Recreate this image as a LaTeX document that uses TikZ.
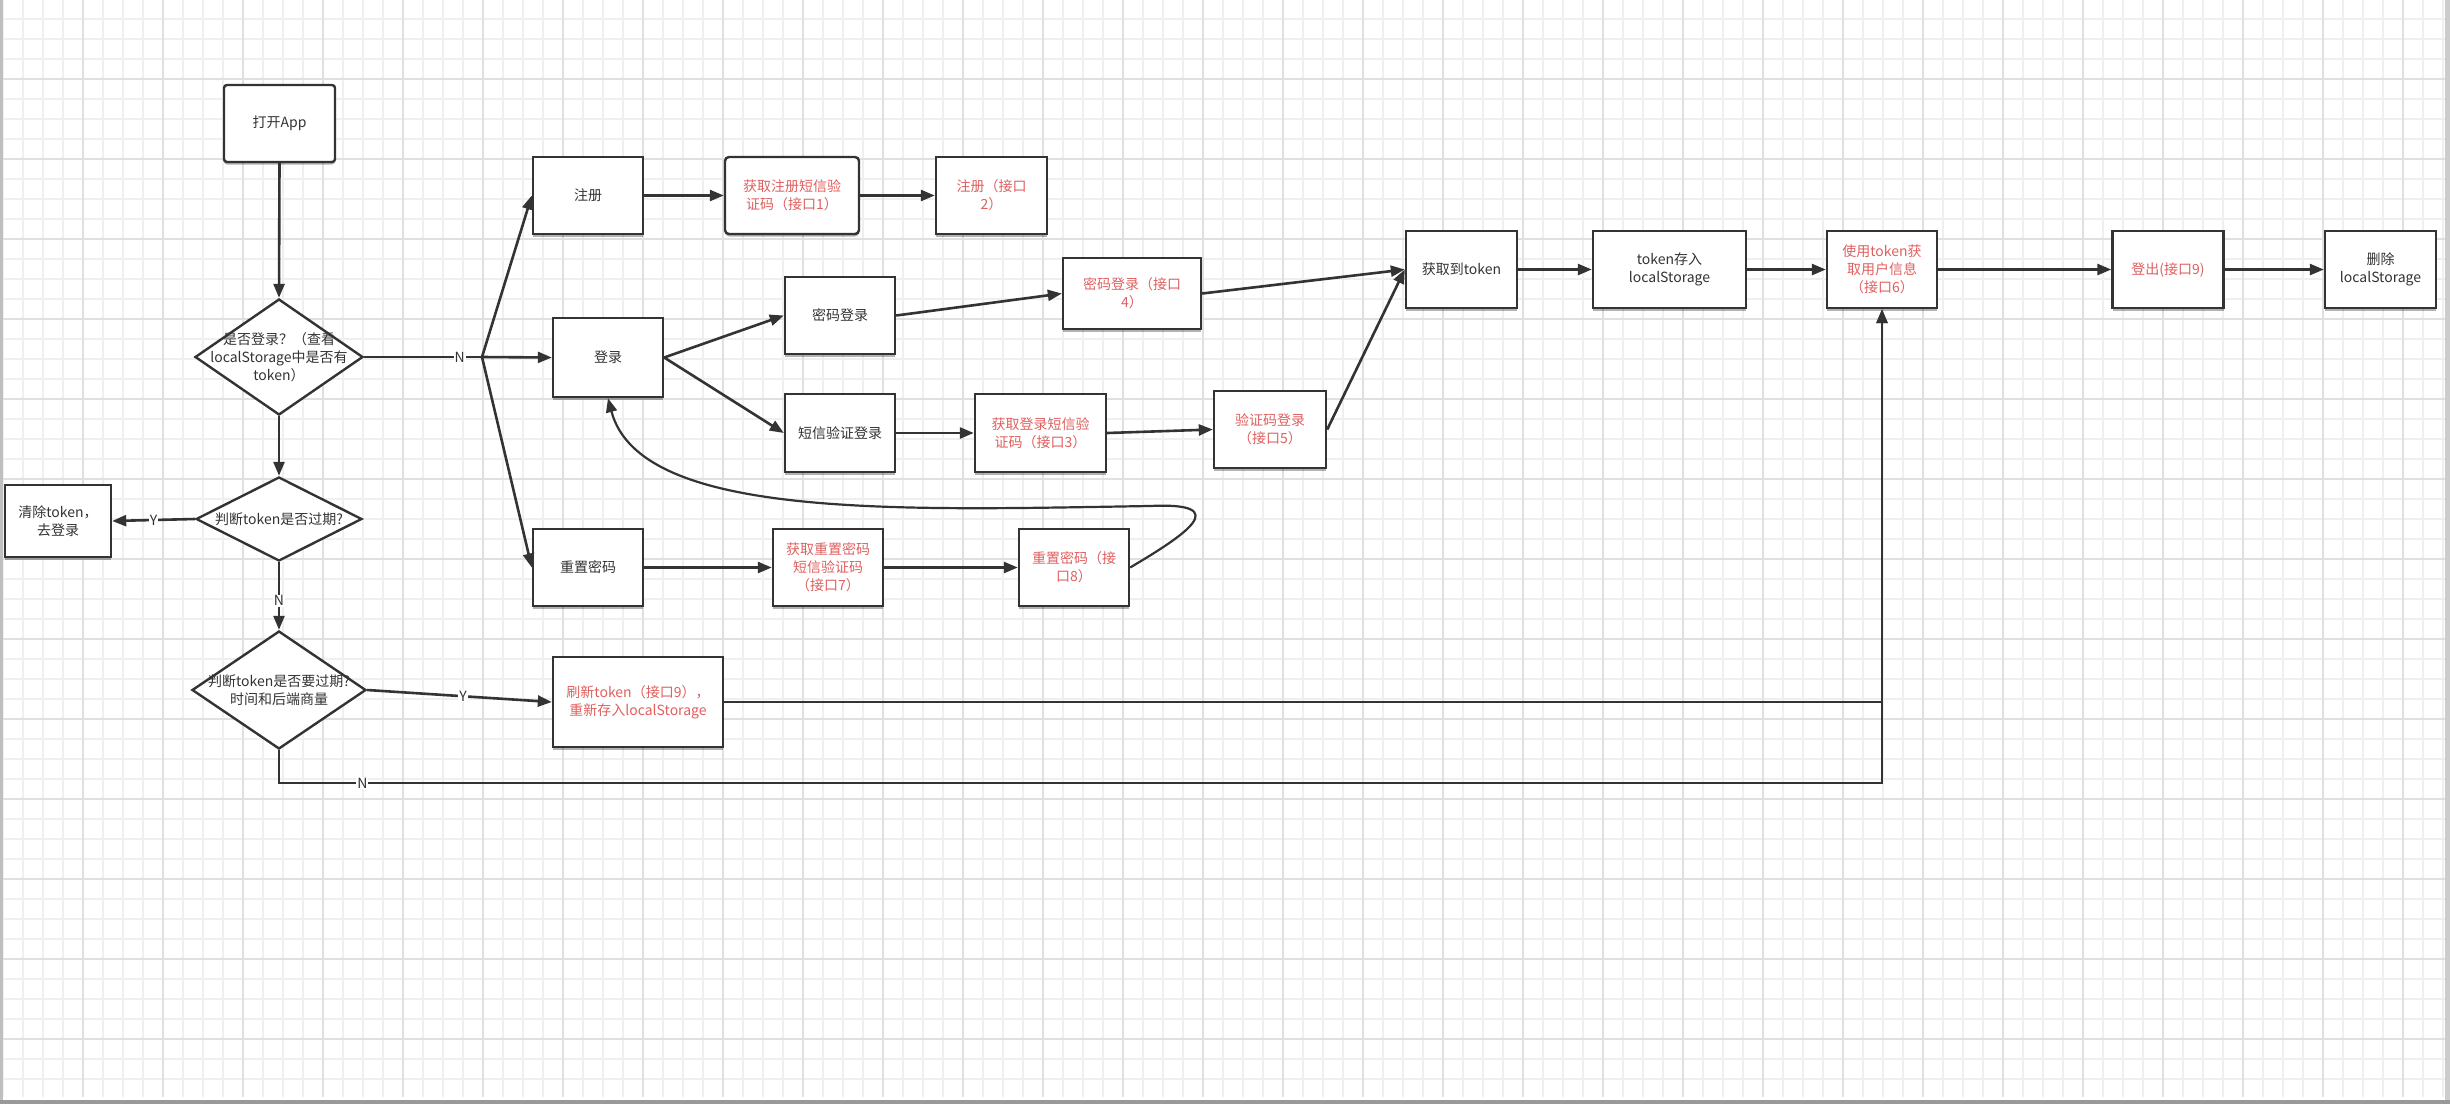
\documentclass[tikz,border=0pt]{standalone}
\usepackage{fontspec}
\setmainfont{Noto Sans CJK SC}
\usetikzlibrary{arrows.meta,shapes.geometric,shadows}
\definecolor{ink}{HTML}{333333}
\definecolor{apired}{HTML}{E06060}
\definecolor{gridminor}{HTML}{EFEFEF}
\definecolor{gridmajor}{HTML}{E0E0E0}
\begin{document}
\begin{tikzpicture}[x=1bp,y=-1bp,
  base/.style={font=\fontsize{14bp}{18bp}\selectfont, text=ink},
  box/.style={base, draw=ink, line width=2.4bp, fill=white, align=center, inner sep=2bp,
    drop shadow={shadow xshift=0bp, shadow yshift=-2.5bp, opacity=0.3, fill=black}},
  api/.style={text=apired},
  sz/.style 2 args={minimum width=#1bp, minimum height=#2bp},
  dia/.style={diamond, draw=ink, line width=2.4bp, fill=white, inner sep=0pt},
  dtext/.style={base, align=center, inner sep=0pt},
  arr/.style={draw=ink, line width=2.6bp, -{Triangle[length=14bp,width=11bp]}},
  plain/.style={draw=ink, line width=2.6bp},
  lbl/.style={base, fill=white, inner sep=1bp},
  gminor/.style={draw=gridminor, line width=1.5bp},
  gmajor/.style={draw=gridmajor, line width=2bp}]
\useasboundingbox (0,0) rectangle (2450,1104);
\fill[white] (0,0) rectangle (2450,1104);
% grid
\foreach \x in {3,23,...,2443} \draw[gminor] (\x,0) -- (\x,1097);
\foreach \y in {19,39,...,1095} \draw[gminor] (3,\y) -- (2445,\y);
\foreach \x in {83,163,...,2403} \draw[gmajor] (\x,0) -- (\x,1097);
\foreach \y in {79,159,...,1039} \draw[gmajor] (3,\y) -- (2445,\y);
% frame edges
\fill[black!25] (0,0) rectangle (3,1104);
\fill[black!20] (2445,0) rectangle (2450,1104);
\fill[black!40] (0,1100) rectangle (2450,1104);

% nodes
\node[box, sz={111}{77}, rounded corners=3bp] (open) at (279.5,123.5) {打开App};
\node[dia, sz={168}{116}, label={[dtext]center:{是否登录？（查看\\localStorage中是否有\\token）}}] (d1) at (279,357) {};
\node[dia, sz={166}{84}, label={[dtext]center:{判断token是否过期?}}] (d2) at (279,519) {};
\node[dia, sz={174}{118}, label={[dtext]center:{判断token是否要过期?\\时间和后端商量}}] (d3) at (279,690) {};
\node[box, sz={106}{72}] (clear) at (58,521) {清除token，\\去登录};
\node[box, sz={110}{77}] (reg) at (588,195.5) {注册};
\node[box, api, sz={134}{77}, rounded corners=4bp] (regsms) at (792,195.5) {获取注册短信验\\证码（接口1）};
\node[box, api, sz={111}{77}] (reg2) at (991.5,195.5) {注册（接口\\2）};
\node[box, sz={110}{79}] (login) at (608,357.5) {登录};
\node[box, sz={110}{77}] (pwd) at (840,315.5) {密码登录};
\node[box, sz={110}{78}] (sms) at (840,433) {短信验证登录};
\node[box, api, sz={138}{71}] (p4) at (1132,293.5) {密码登录（接口\\4）};
\node[box, api, sz={131}{78}] (smscode) at (1040.5,433) {获取登录短信验\\证码（接口3）};
\node[box, api, sz={112}{77}] (v5) at (1270,429.5) {验证码登录\\（接口5）};
\node[box, sz={110}{77}] (reset) at (588,567.5) {重置密码};
\node[box, api, sz={110}{77}] (resetsms) at (828,567.5) {获取重置密码\\短信验证码\\（接口7）};
\node[box, api, sz={110}{77}] (r8) at (1074,567.5) {重置密码（接\\口8）};
\node[box, api, sz={170}{90}] (refresh) at (638,702) {刷新token（接口9），\\重新存入localStorage};
\node[box, sz={111}{77}] (gettoken) at (1461.5,269.5) {获取到token};
\node[box, sz={153}{77}] (store) at (1669.5,269.5) {token存入\\localStorage};
\node[box, api, sz={110}{77}] (use) at (1882,269.5) {使用token获\\取用户信息\\（接口6）};
\node[box, api, sz={111}{77}] (logout) at (2168,269.5) {登出(接口9)};
\node[box, sz={111}{77}] (del) at (2380.5,269.5) {删除\\localStorage};

\coordinate (split) at (482,357);
\coordinate (bot) at (1882,783);
\coordinate (loop) at (1150,506);

% connectors
\draw[arr] (open.south) -- (d1.north);
\draw[arr] (d1.south) -- (d2.north);
\draw[plain] (d1.east) -- node[lbl,pos=0.81]{N} (split);
\draw[arr] (split) -- (reg.west);
\draw[arr] (split) -- (login.west);
\draw[arr] (split) -- (reset.west);
\draw[arr] (d2.west) -- node[lbl]{Y} (clear.east);
\draw[arr] (d2.south) -- node[lbl,pos=0.57]{N} (d3.north);
\draw[arr] (d3.east) -- node[lbl,pos=0.52]{Y} (refresh.west);
\draw[arr] (refresh.east) -| (use.south);
\draw[arr] (d3.south) |- node[lbl,pos=0.526]{N} (bot) -- (use.south);
\draw[arr] (reg.east) -- (regsms.west);
\draw[arr] (regsms.east) -- (reg2.west);
\draw[arr] (login.east) -- (pwd.west);
\draw[arr] (login.east) -- (sms.west);
\draw[arr] (pwd.east) -- (p4.west);
\draw[arr] (sms.east) -- (smscode.west);
\draw[arr] (smscode.east) -- (v5.west);
\draw[arr] (p4.east) -- (gettoken.west);
\draw[arr] (v5.east) -- (gettoken.west);
\draw[arr] (reset.east) -- (resetsms.west);
\draw[arr] (resetsms.east) -- (r8.west);
\draw[arr, line width=2.2bp] (r8.east) .. controls (1185,535) and (1235,502) .. (loop)
   .. controls (900,510) and (640,520) .. (login.south);
\draw[arr] (gettoken.east) -- (store.west);
\draw[arr] (store.east) -- (use.west);
\draw[arr] (use.east) -- (logout.west);
\draw[arr] (logout.east) -- (del.west);
\end{tikzpicture}
\end{document}
